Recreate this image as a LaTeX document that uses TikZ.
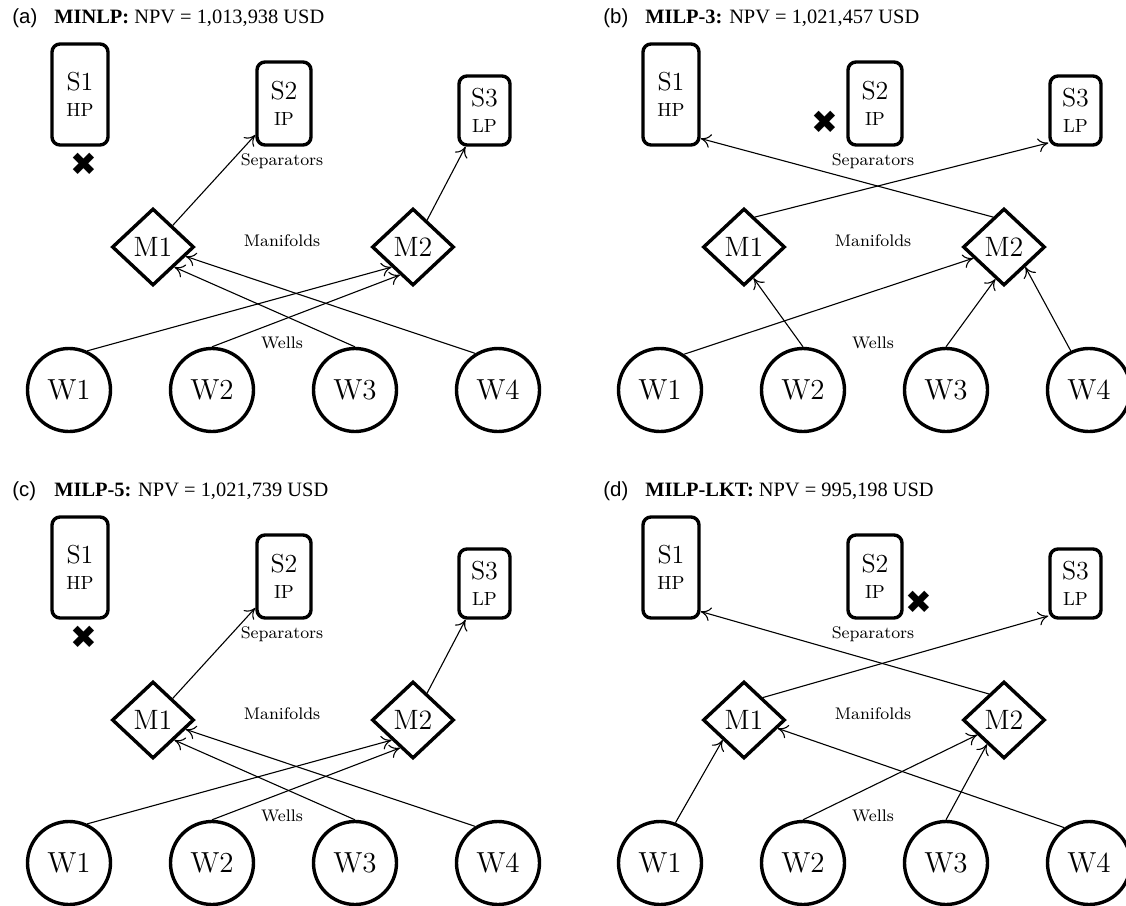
\documentclass[tikz,border=0pt]{standalone}
\usepackage{fontspec}
\usepackage{tikz}
\usetikzlibrary{arrows.meta, shapes.geometric}
\newfontfamily\npvfont{Liberation Serif}
\newfontfamily\tagfont{Liberation Sans}
\newfontfamily\crossfont{DejaVu Sans}
\newcommand{\prs}{\fontsize{9.5}{13}\selectfont}
% nodes shared by all four panels
\newcommand{\basenodes}{%
  \node[sepbox, minimum width=28pt, minimum height=50.5pt] (S1) at (80,94.5) {S1\\\prs HP};
  \node[sepbox, minimum width=27pt, minimum height=41.5pt] (S2) at (284,103.5) {S2\\\prs IP};
  \node[sepbox, minimum width=25.5pt, minimum height=34.5pt] (S3) at (484.5,110.5) {S3\\\prs LP};
  \node[mani] (M1) at (153,247) {M1};
  \node[mani] (M2) at (413,247) {M2};
  \node[well] (W1) at (69,390) {W1};
  \node[well] (W2) at (212,390) {W2};
  \node[well] (W3) at (355,390) {W3};
  \node[well] (W4) at (498,390) {W4};
  \node[lbl] (sepl) at (282,161) {Separators};
  \node[lbl] (manl) at (282,241) {Manifolds};
  \node[lbl] (wlsl) at (282,343) {Wells};
}

\begin{document}
\begin{tikzpicture}[x=0.5pt, y=-0.5pt, >={To[length=5pt,width=7pt]},
  sepbox/.style={draw, line width=1.7pt, rounded corners=4pt, align=center, inner sep=0pt,
    font=\fontsize{13}{13}\selectfont},
  mani/.style={draw, diamond, line width=1.7pt, minimum width=41pt, minimum height=38.5pt,
    inner sep=0pt, font=\fontsize{14}{14}\selectfont},
  well/.style={draw, circle, line width=1.7pt, minimum size=41.5pt, inner sep=0pt,
    font=\fontsize{14.5}{14.5}\selectfont},
  lbl/.style={font=\fontsize{8.4}{9}\selectfont},
  flow/.style={->, line width=0.55pt},
  xmark/.style={font=\crossfont\fontsize{16}{16}\selectfont, inner sep=0pt},
  tagl/.style={anchor=base west, inner sep=0pt, font=\tagfont\fontsize{10.2}{12}\selectfont},
  ttl/.style={anchor=base west, inner sep=0pt, font=\npvfont\fontsize{10.2}{12}\selectfont}
]
  \useasboundingbox (0,0) rectangle (1126,906);
  % (a) MINLP
  \begin{scope}[name prefix=a-]
    \basenodes
    \node[tagl] (tag) at (12,23) {(a)};
    \node[ttl] (ttl) at (54,23) {\textbf{MINLP:} NPV = 1,013,938 USD};
    \node[xmark] (x) at (84,164) {✖};
    \draw[flow] (M1) -- (S2);
    \draw[flow] (M2) -- (S3);
    \draw[flow] (W1.65) -- (M2.south west);
    \draw[flow] (W2.north) -- (M2.245);
    \draw[flow] (W3.north) -- (M1.south east);
    \draw[flow] (W4.122) -- (M1.344);
  \end{scope}
  % (b) MILP-3
  \begin{scope}[shift={(591,0)}, name prefix=b-]
    \basenodes
    \node[tagl] (tag) at (12,23) {(b)};
    \node[ttl] (ttl) at (54,23) {\textbf{MILP-3:} NPV = 1,021,457 USD};
    \node[xmark] (x) at (234,122) {✖};
    \draw[flow] (M1.70) -- (S3.230);
    \draw[flow] (M2.110) -- (S1.304);
    \draw[flow] (W1.56) -- (M2.200);
    \draw[flow] (W2.north) -- (M1.287);
    \draw[flow] (W3.north) -- (M2.255);
    \draw[flow] (W4.115) -- (M2.south east);
  \end{scope}
  % (c) MILP-5
  \begin{scope}[shift={(0,473)}, name prefix=c-]
    \basenodes
    \node[tagl] (tag) at (12,23) {(c)};
    \node[ttl] (ttl) at (54,23) {\textbf{MILP-5:} NPV = 1,021,739 USD};
    \node[xmark] (x) at (84,164) {✖};
    \draw[flow] (M1) -- (S2);
    \draw[flow] (M2) -- (S3);
    \draw[flow] (W1.65) -- (M2.south west);
    \draw[flow] (W2.north) -- (M2.245);
    \draw[flow] (W3.north) -- (M1.south east);
    \draw[flow] (W4.122) -- (M1.344);
  \end{scope}
  % (d) MILP-LKT
  \begin{scope}[shift={(591,473)}, name prefix=d-]
    \basenodes
    \node[tagl] (tag) at (12,23) {(d)};
    \node[ttl] (ttl) at (54,23) {\textbf{MILP-LKT:} NPV = 995,198 USD};
    \node[xmark] (x) at (328,129) {✖};
    \draw[flow] (M1.50) -- (S3.230);
    \draw[flow] (M2.120) -- (S1.304);
    \draw[flow] (W1.69) -- (M1.south west);
    \draw[flow] (W2.north) -- (M2.209);
    \draw[flow] (W3.north) -- (M2.235);
    \draw[flow] (W4.125) -- (M1.346);
  \end{scope}
\end{tikzpicture}
\end{document}
